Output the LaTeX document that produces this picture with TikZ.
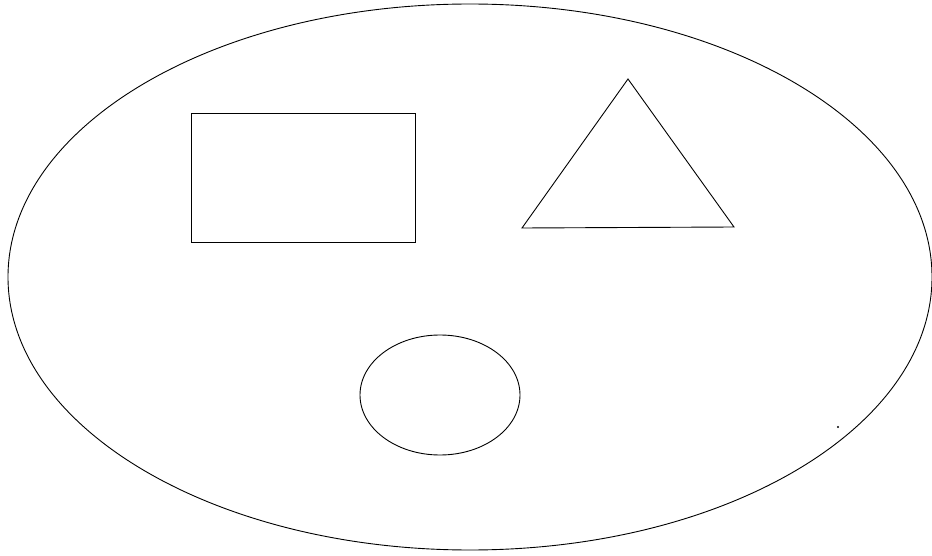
\documentclass[tikz,border=0pt]{standalone}
\begin{document}
\begin{tikzpicture}[x=1pt,y=-1pt,
  outl/.style={draw=black, line width=0.9pt}]
\useasboundingbox[fill=white] (0,0) rectangle (932,556);
\draw[outl] (470,277) ellipse [x radius=462, y radius=273];
\draw[outl] (191,113) rectangle (415,242);
\draw[outl] (628,79) -- (734,227) -- (522,228) -- cycle;
\draw[outl] (440,395) ellipse [x radius=80, y radius=60];
\fill (838,427) circle [radius=1.2];
\end{tikzpicture}
\end{document}
